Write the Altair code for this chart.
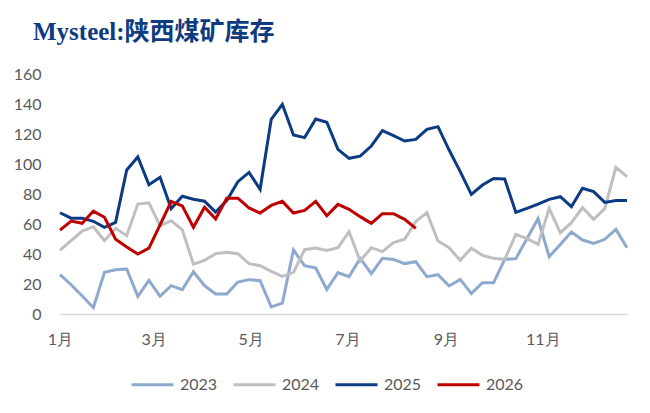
import altair as alt
import pandas as pd

series = ["2023", "2024", "2025", "2026"]
colors = ["#8EA9CE", "#BFBFBF", "#0B3B82", "#C00000"]

v2023 = [26.2, 19.5, 12.0, 4.2, 27.8, 29.5, 30.0, 11.8, 22.4, 11.8,
         18.9, 16.2, 28.2, 18.9, 13.3, 13.3, 21.3, 22.9, 22.2, 4.7,
         7.3, 42.7, 32.2, 30.7, 16.3, 27.6, 24.9, 37.1, 26.9, 37.1,
         36.4, 33.6, 34.9, 24.9, 26.2, 18.7, 23.1, 13.6, 20.9, 20.9,
         36.4, 36.9, 50.2, 63.6, 38.2, 46.4, 54.7, 49.3, 47.1, 49.8,
         56.4, 44.2]
v2024 = [42.5, 48.9, 55.3, 58.2, 48.9, 57.1, 52.2, 73.3, 74.1, 58.8,
         62.2, 56.1, 33.3, 35.8, 40.2, 41.1, 40.2, 33.6, 32.2, 28.4,
         25.1, 27.8, 42.9, 44.0, 42.3, 44.2, 54.9, 35.3, 44.2, 41.6,
         47.6, 49.8, 61.6, 67.6, 48.7, 44.2, 35.8, 43.8, 39.1, 37.1,
         36.4, 53.1, 50.2, 46.4, 70.4, 54.2, 60.9, 70.9, 63.1, 70.2,
         97.8, 91.6]
v2025 = [67.5, 63.9, 63.9, 61.8, 57.8, 61.1, 96.0, 104.7, 86.2, 91.1,
         70.3, 78.5, 76.5, 75.2, 67.9, 75.6, 88.2, 94.4, 83.1, 129.8,
         139.8, 119.3, 117.6, 130.0, 127.8, 109.8, 103.8, 105.2, 112.0, 122.2,
         118.9, 115.3, 116.4, 123.1, 124.9, 109.3, 94.9, 79.8, 86.0, 90.4,
         90.0, 67.8, 70.4, 73.3, 76.4, 78.2, 71.6, 83.8, 81.6, 74.4,
         75.6, 75.6]
v2026 = [55.9, 61.9, 60.5, 68.6, 64.5, 49.9, 44.7, 40.0, 43.9, 59.4,
         75.0, 72.1, 57.8, 71.2, 63.4, 77.2, 77.2, 70.7, 67.3, 72.4,
         75.1, 67.3, 69.1, 75.1, 65.5, 73.1, 69.8, 64.9, 60.4, 66.9,
         66.9, 63.1, 57.1]

month_labels = ["1月", "3月", "5月", "7月", "9月", "11月"]
month_start_day = [0, 59, 120, 181, 243, 304]
month_ticks = [d / 7 for d in month_start_day]

rows = []
for name, vals in zip(series, [v2023, v2024, v2025, v2026]):
    for i, v in enumerate(vals):
        rows.append({"week": i, "value": v, "year": name})
df = pd.DataFrame(rows)

label_expr = " : ".join(
    [f"abs(datum.value - {t}) < 0.01 ? '{l}'" for t, l in zip(month_ticks, month_labels)]
) + " : ''"

font = "Lato"

chart = alt.Chart(df).mark_line(strokeWidth=3, strokeJoin="miter", strokeCap="butt").encode(
    x=alt.X("week:Q",
            scale=alt.Scale(domain=[0, 51], nice=False, zero=False),
            axis=alt.Axis(values=month_ticks, labelExpr=label_expr, title=None,
                          ticks=False, grid=False, domainColor="#D9D9D9",
                          domainWidth=1.5, labelPadding=17, labelFontSize=16,
                          labelColor="#595959", labelFont=font, labelFlush=False)),
    y=alt.Y("value:Q",
            scale=alt.Scale(domain=[0, 160], nice=False),
            axis=alt.Axis(values=list(range(0, 161, 20)), title=None, ticks=False,
                          grid=False, domain=False, labelPadding=19, labelFontSize=16,
                          labelColor="#595959", labelFont=font)),
    color=alt.Color("year:N",
                    scale=alt.Scale(domain=series, range=colors),
                    legend=alt.Legend(title=None, orient="none", direction="horizontal",
                                      legendX=70, legendY=288,
                                      symbolType="stroke", symbolSize=1764,
                                      symbolStrokeWidth=3, labelFontSize=16,
                                      labelColor="#595959", labelFont=font,
                                      columnPadding=9, labelOffset=5)),
    order=alt.Order("week:Q"),
).properties(
    width=567,
    height=240,
    padding={"left": 52, "top": 66, "right": 15, "bottom": 91},
    autosize=alt.AutoSizeParams(type="none"),
    title=alt.Title("Mysteel:陕西煤矿库存", anchor="start", frame="group",
                    font="Liberation Serif, Noto Sans CJK SC", fontSize=25,
                    fontWeight="bold", color="#0E3B7F", dx=-27, offset=21),
).configure_view(stroke=None)

chart.save("out.html", embed_options={"renderer": "svg", "actions": False})
